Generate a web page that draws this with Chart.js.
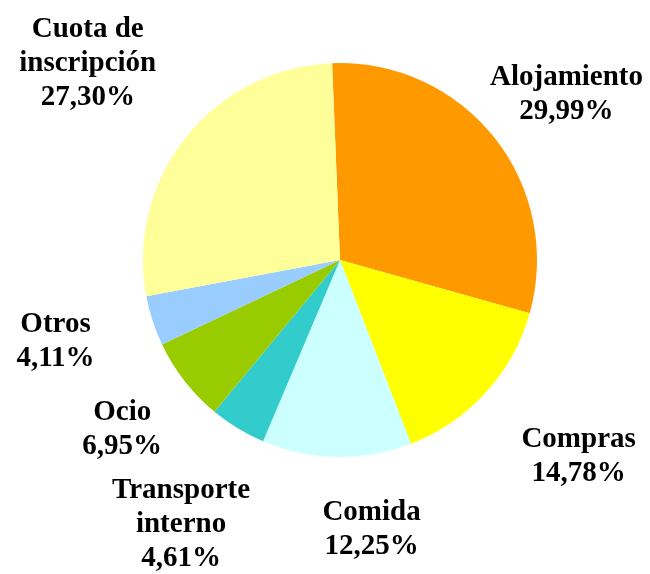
<!DOCTYPE html>
<html>
<head>
<meta charset="utf-8">
<script src="https://cdn.jsdelivr.net/npm/chart.js@4"></script>
<style>
    html, body { margin: 0; padding: 0; background: #fff; }
    #wrap { width: 650px; height: 574px; }
</style>
</head>
<body>
<div id="wrap"><canvas id="gastos-chart" width="650" height="574"></canvas></div>
<script>
const categories = [
    ["Alojamiento"],
    ["Compras"],
    ["Comida"],
    ["Transporte", "interno"],
    ["Ocio"],
    ["Otros"],
    ["Cuota de", "inscripción"],
];
const percentages = [29.99, 14.78, 12.25, 4.61, 6.95, 4.11, 27.30];
const sliceColors = ["#FF9900", "#FFFF00", "#CCFFFF", "#33CCCC", "#99CC00", "#99CCFF", "#FFFF99"];

(function () {
    // label distance from the centre along each slice's mid angle, plus a small nudge
    const labelDistance = [281, 309, 272, 308, 276, 297, 320];
    const labelShift = [[6, 9], [10, -11], [36, -2], [1, 1], [0, 0], [-2, -10], [-2, 3]];

    const outsideLabels = {
        id: "outsideLabels",
        afterDatasetsDraw(chart) {
            const ctx = chart.ctx;
            const meta = chart.getDatasetMeta(0);
            ctx.save();
            ctx.font = "bold 29px 'Liberation Serif', 'Times New Roman', serif";
            ctx.fillStyle = "#000";
            ctx.textAlign = "center";
            ctx.textBaseline = "middle";
            meta.data.forEach((arc, i) => {
                const mid = (arc.startAngle + arc.endAngle) / 2;
                const x = arc.x + Math.cos(mid) * labelDistance[i] + labelShift[i][0];
                const y = arc.y + Math.sin(mid) * labelDistance[i] + labelShift[i][1];
                const value = percentages[i].toFixed(2).replace(".", ",") + "%";
                const lines = categories[i].concat([value]);
                const lh = 34;
                const top = y - (lines.length - 1) * lh / 2;
                lines.forEach((line, k) => ctx.fillText(line, x, top + k * lh));
            });
            ctx.restore();
        },
    };

    new Chart(document.getElementById("gastos-chart"), {
        type: "pie",
        data: {
            labels: categories.map(c => c.join(" ")),
            datasets: [
                {
                    data: percentages,
                    backgroundColor: sliceColors,
                    borderWidth: 0,
                },
            ],
        },
        options: {
            responsive: false,
            animation: false,
            rotation: -2.3,
            layout: {
                padding: { left: 143, right: 113, top: 63, bottom: 117 },
            },
            plugins: {
                legend: { display: false },
                tooltip: { enabled: false },
            },
        },
        plugins: [outsideLabels],
    });
})();
</script>
</body>
</html>
